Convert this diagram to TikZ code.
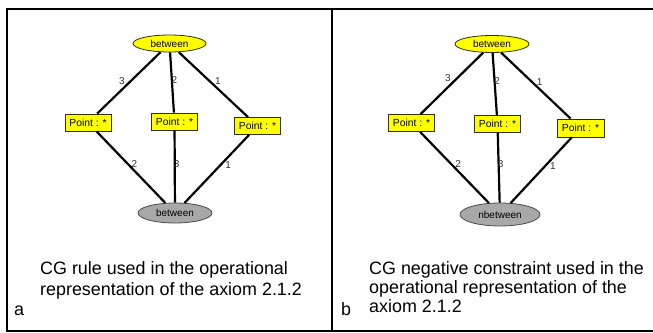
\documentclass[tikz,border=0pt]{standalone}
\usepackage{fontspec}
\setmainfont{Liberation Sans}
\usetikzlibrary{shapes.geometric}
\definecolor{cgyellow}{HTML}{FFFF00}
\definecolor{cggrey}{HTML}{A8A8A8}
\definecolor{cgborder}{HTML}{333300}
\definecolor{lblgrey}{HTML}{333333}
\tikzset{
  relyellow/.style={ellipse, draw=cgborder, fill=cgyellow, line width=0.8pt, inner sep=0pt, font=\fontsize{10}{11}\selectfont},
  relgrey/.style={ellipse, draw=black!70, fill=cggrey, line width=0.8pt, inner sep=0pt, font=\fontsize{10}{11}\selectfont},
  concept/.style={rectangle, draw=cgborder, fill=cgyellow, line width=0.8pt, inner sep=0pt, minimum width=46pt, minimum height=17pt, font=\fontsize{10.3}{11}\selectfont},
  arc/.style={line width=2.2pt, black},
  arclbl/.style={font=\fontsize{10}{11}\selectfont, text=lblgrey, inner sep=0pt},
  frame/.style={line width=2pt, black},
  caption/.style={font=\fontsize{17.9}{21}\selectfont, align=left, anchor=north west, inner sep=0pt},
  panellbl/.style={font=\fontsize{17.9}{21}\selectfont, anchor=base, inner sep=0pt}
}
\begin{document}
\begin{tikzpicture}[x=1pt,y=-1pt]
\useasboundingbox (0,0) rectangle (653,332);
% frame
\coordinate (tl) at (6.5,8.5);
\coordinate (tr) at (653,8.5);
\coordinate (bl) at (6.5,330.5);
\coordinate (br) at (653,330.5);
\coordinate (dt) at (331.5,8.5);
\coordinate (db) at (331.5,330.5);
\draw[frame] (tr) -- (tl) -- (bl) -- (br);
\draw[frame] (dt) -- (db);

% ---------- panel a ----------
\node[relyellow, minimum width=73pt, minimum height=17pt] (aTop) at (169.5,43.5) {between};
\node[concept] (aP1) at (88,122.5) {Point : *};
\node[concept] (aP2) at (174.5,121.5) {Point : *};
\node[concept] (aP3) at (257.5,126) {Point : *};
\node[relgrey, minimum width=74pt, minimum height=20pt] (aBot) at (175,213) {between};
\draw[arc] (aTop) -- node[arclbl, pos=0.47, xshift=-9pt] (aL1) {3} (aP1);
\draw[arc] (aTop) -- node[arclbl, pos=0.46, xshift=2.5pt] (aL2) {2} (aP2);
\draw[arc] (aTop) -- node[arclbl, pos=0.45, xshift=8pt] (aL3) {1} (aP3);
\draw[arc] (aP1) -- node[arclbl, pos=0.45, xshift=7pt] (aL4) {2} (aBot);
\draw[arc] (aP2) -- node[arclbl, pos=0.46, xshift=2pt] (aL5) {3} (aBot);
\draw[arc] (aP3) -- node[arclbl, pos=0.45, xshift=8pt] (aL6) {1} (aBot);
\node[caption] (aCap) at (40,261) {CG rule used in the operational\\representation of the axiom 2.1.2};
\node[panellbl] (aLbl) at (19,315) {a};

% ---------- panel b ----------
\node[relyellow, minimum width=74pt, minimum height=17pt] (bTop) at (492,44) {between};
\node[concept] (bP1) at (411.5,123) {Point : *};
\node[concept] (bP2) at (497.5,124) {Point : *};
\node[concept, minimum width=47pt, minimum height=18pt] (bP3) at (580.5,128) {Point : *};
\node[relgrey, minimum width=80pt, minimum height=23pt] (bBot) at (500,214.5) {nbetween};
\draw[arc] (bTop) -- node[arclbl, pos=0.42, xshift=-9pt] (bL1) {3} (bP1);
\draw[arc] (bTop) -- node[arclbl, pos=0.45, xshift=2.5pt] (bL2) {2} (bP2);
\draw[arc] (bTop) -- node[arclbl, pos=0.44, xshift=8pt] (bL3) {1} (bP3);
\draw[arc] (bP1) -- node[arclbl, pos=0.45, xshift=7pt] (bL4) {2} (bBot);
\draw[arc] (bP2) -- node[arclbl, pos=0.44, xshift=2pt] (bL5) {3} (bBot);
\draw[arc] (bP3) -- node[arclbl, pos=0.44, xshift=8pt] (bL6) {1} (bBot);
\node[caption, font=\fontsize{17.9}{19}\selectfont] (bCap) at (369,261) {CG negative constraint used in the\\operational representation of the\\axiom 2.1.2};
\node[panellbl] (bLbl) at (346,315) {b};
\end{tikzpicture}
\end{document}
